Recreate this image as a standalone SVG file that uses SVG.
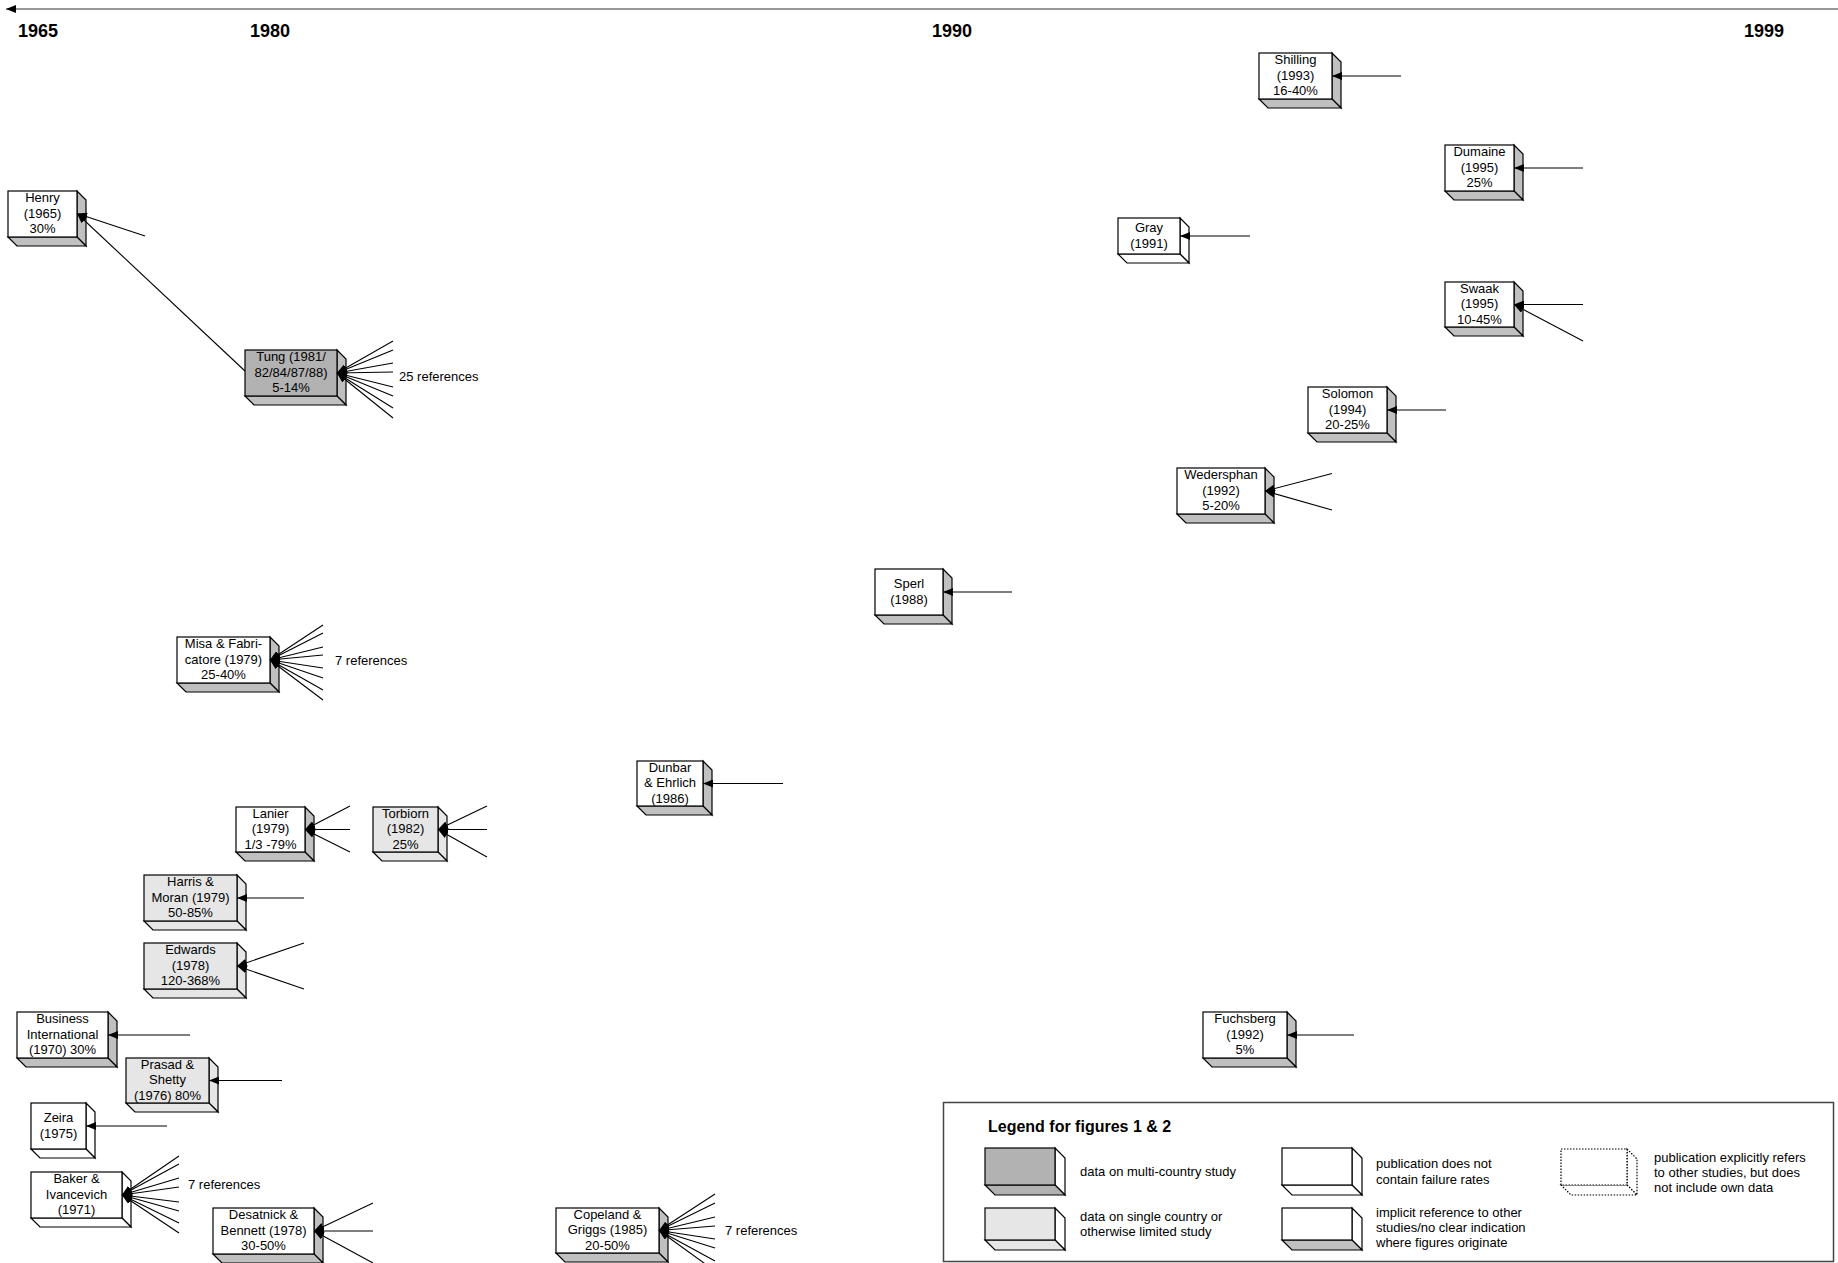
<svg xmlns="http://www.w3.org/2000/svg" width="1838" height="1263" viewBox="0 0 1838 1263">
<style>
text{font-family:"Liberation Sans",Arial,sans-serif;font-size:13px;fill:#000}
.yr{font-size:18px;font-weight:bold}
.lt{font-size:16px;font-weight:bold}
.c{text-anchor:middle}
.f{stroke:#000;stroke-width:1.2}
.w{fill:#fff}
.s{fill:#c0c0c0}
.lg{fill:#e6e6e6}
.dg{fill:#b2b2b2}
.cn path{fill:none;stroke:#000;stroke-width:1.1;marker-end:url(#ah)}
.dot{fill:#fff;stroke:#000;stroke-width:1.2;stroke-dasharray:1.5 1.5}
</style>
<defs>
<marker id="ah" viewBox="0 0 10 8" refX="10" refY="4" markerWidth="10" markerHeight="8" markerUnits="userSpaceOnUse" orient="auto"><path d="M0,0 L10,4 L0,8 z" fill="#000"/></marker>
</defs>
<rect width="1838" height="1263" fill="#fff"/>
<g id="axis">
<path d="M1838,9 L6,9" fill="none" stroke="#333" stroke-width="1.2" marker-end="url(#ah)"/>
<text class="yr" x="18" y="37">1965</text>
<text class="yr" x="250" y="37">1980</text>
<text class="yr" x="932" y="37">1990</text>
<text class="yr" x="1744" y="37">1999</text>
</g>
<g id="henry"><polygon class="f s" points="77,191 86,200 86,246 77,237"/><polygon class="f s" points="8,237 77,237 86,246 17,246"/><rect class="f w" x="8" y="191" width="69" height="46"/><text class="c" x="42.5" y="202">Henry</text><text class="c" x="42.5" y="217.5">(1965)</text><text class="c" x="42.5" y="233">30%</text></g>
<g id="tung"><polygon class="f s" points="337,350 346,359 346,405 337,396"/><polygon class="f s" points="245,396 337,396 346,405 254,405"/><rect class="f dg" x="245" y="350" width="92" height="46"/><text class="c" x="291" y="361">Tung (1981/</text><text class="c" x="291" y="376.5">82/84/87/88)</text><text class="c" x="291" y="392">5-14%</text></g>
<g id="misa"><polygon class="f s" points="270,637 279,646 279,692 270,683"/><polygon class="f s" points="177,683 270,683 279,692 186,692"/><rect class="f w" x="177" y="637" width="93" height="46"/><text class="c" x="223.5" y="648">Misa &amp; Fabri-</text><text class="c" x="223.5" y="663.5">catore (1979)</text><text class="c" x="223.5" y="679">25-40%</text></g>
<g id="lanier"><polygon class="f s" points="305,807 314,816 314,861 305,852"/><polygon class="f s" points="236,852 305,852 314,861 245,861"/><rect class="f w" x="236" y="807" width="69" height="45"/><text class="c" x="270.5" y="817.5">Lanier</text><text class="c" x="270.5" y="833">(1979)</text><text class="c" x="270.5" y="848.5">1/3 -79%</text></g>
<g id="torbiorn"><polygon class="f lg" points="438,807 447,816 447,861 438,852"/><polygon class="f lg" points="373,852 438,852 447,861 382,861"/><rect class="f lg" x="373" y="807" width="65" height="45"/><text class="c" x="405.5" y="817.5">Torbiorn</text><text class="c" x="405.5" y="833">(1982)</text><text class="c" x="405.5" y="848.5">25%</text></g>
<g id="harris"><polygon class="f lg" points="237,875 246,884 246,930 237,921"/><polygon class="f lg" points="144,921 237,921 246,930 153,930"/><rect class="f lg" x="144" y="875" width="93" height="46"/><text class="c" x="190.5" y="886">Harris &amp;</text><text class="c" x="190.5" y="901.5">Moran (1979)</text><text class="c" x="190.5" y="917">50-85%</text></g>
<g id="edwards"><polygon class="f lg" points="237,943 246,952 246,998 237,989"/><polygon class="f lg" points="144,989 237,989 246,998 153,998"/><rect class="f lg" x="144" y="943" width="93" height="46"/><text class="c" x="190.5" y="954">Edwards</text><text class="c" x="190.5" y="969.5">(1978)</text><text class="c" x="190.5" y="985">120-368%</text></g>
<g id="business"><polygon class="f s" points="108,1012 117,1021 117,1067 108,1058"/><polygon class="f s" points="17,1058 108,1058 117,1067 26,1067"/><rect class="f w" x="17" y="1012" width="91" height="46"/><text class="c" x="62.5" y="1023">Business</text><text class="c" x="62.5" y="1038.5">International</text><text class="c" x="62.5" y="1054">(1970) 30%</text></g>
<g id="prasad"><polygon class="f lg" points="209,1058 218,1067 218,1112 209,1103"/><polygon class="f lg" points="126,1103 209,1103 218,1112 135,1112"/><rect class="f lg" x="126" y="1058" width="83" height="45"/><text class="c" x="167.5" y="1068.5">Prasad &amp;</text><text class="c" x="167.5" y="1084">Shetty</text><text class="c" x="167.5" y="1099.5">(1976) 80%</text></g>
<g id="zeira"><polygon class="f w" points="86,1103 95,1112 95,1158 86,1149"/><polygon class="f w" points="31,1149 86,1149 95,1158 40,1158"/><rect class="f w" x="31" y="1103" width="55" height="46"/><text class="c" x="58.5" y="1122">Zeira</text><text class="c" x="58.5" y="1137.5">(1975)</text></g>
<g id="baker"><polygon class="f w" points="122,1172 131,1181 131,1227 122,1218"/><polygon class="f w" points="31,1218 122,1218 131,1227 40,1227"/><rect class="f w" x="31" y="1172" width="91" height="46"/><text class="c" x="76.5" y="1183">Baker &amp;</text><text class="c" x="76.5" y="1198.5">Ivancevich</text><text class="c" x="76.5" y="1214">(1971)</text></g>
<g id="desatnick"><polygon class="f s" points="314,1208 323,1217 323,1263 314,1254"/><polygon class="f s" points="213,1254 314,1254 323,1263 222,1263"/><rect class="f w" x="213" y="1208" width="101" height="46"/><text class="c" x="263.5" y="1219">Desatnick &amp;</text><text class="c" x="263.5" y="1234.5">Bennett (1978)</text><text class="c" x="263.5" y="1250">30-50%</text></g>
<g id="copeland"><polygon class="f s" points="659,1208 668,1217 668,1262 659,1253"/><polygon class="f s" points="556,1253 659,1253 668,1262 565,1262"/><rect class="f w" x="556" y="1208" width="103" height="45"/><text class="c" x="607.5" y="1218.5">Copeland &amp;</text><text class="c" x="607.5" y="1234">Griggs (1985)</text><text class="c" x="607.5" y="1249.5">20-50%</text></g>
<g id="dunbar"><polygon class="f s" points="703,761 712,770 712,815 703,806"/><polygon class="f s" points="637,806 703,806 712,815 646,815"/><rect class="f w" x="637" y="761" width="66" height="45"/><text class="c" x="670" y="771.5">Dunbar</text><text class="c" x="670" y="787">&amp; Ehrlich</text><text class="c" x="670" y="802.5">(1986)</text></g>
<g id="sperl"><polygon class="f s" points="943,569 952,578 952,624 943,615"/><polygon class="f s" points="875,615 943,615 952,624 884,624"/><rect class="f w" x="875" y="569" width="68" height="46"/><text class="c" x="909" y="588">Sperl</text><text class="c" x="909" y="603.5">(1988)</text></g>
<g id="fuchsberg"><polygon class="f s" points="1287,1012 1296,1021 1296,1067 1287,1058"/><polygon class="f s" points="1203,1058 1287,1058 1296,1067 1212,1067"/><rect class="f w" x="1203" y="1012" width="84" height="46"/><text class="c" x="1245" y="1023">Fuchsberg</text><text class="c" x="1245" y="1038.5">(1992)</text><text class="c" x="1245" y="1054">5%</text></g>
<g id="shilling"><polygon class="f s" points="1332,53 1341,62 1341,108 1332,99"/><polygon class="f s" points="1259,99 1332,99 1341,108 1268,108"/><rect class="f w" x="1259" y="53" width="73" height="46"/><text class="c" x="1295.5" y="64">Shilling</text><text class="c" x="1295.5" y="79.5">(1993)</text><text class="c" x="1295.5" y="95">16-40%</text></g>
<g id="dumaine"><polygon class="f s" points="1514,145 1523,154 1523,200 1514,191"/><polygon class="f s" points="1445,191 1514,191 1523,200 1454,200"/><rect class="f w" x="1445" y="145" width="69" height="46"/><text class="c" x="1479.5" y="156">Dumaine</text><text class="c" x="1479.5" y="171.5">(1995)</text><text class="c" x="1479.5" y="187">25%</text></g>
<g id="gray"><polygon class="f w" points="1180,218 1189,227 1189,263 1180,254"/><polygon class="f w" points="1118,254 1180,254 1189,263 1127,263"/><rect class="f w" x="1118" y="218" width="62" height="36"/><text class="c" x="1149" y="232">Gray</text><text class="c" x="1149" y="247.5">(1991)</text></g>
<g id="swaak"><polygon class="f s" points="1514,282 1523,291 1523,336 1514,327"/><polygon class="f s" points="1445,327 1514,327 1523,336 1454,336"/><rect class="f w" x="1445" y="282" width="69" height="45"/><text class="c" x="1479.5" y="292.5">Swaak</text><text class="c" x="1479.5" y="308">(1995)</text><text class="c" x="1479.5" y="323.5">10-45%</text></g>
<g id="solomon"><polygon class="f s" points="1387,387 1396,396 1396,442 1387,433"/><polygon class="f s" points="1308,433 1387,433 1396,442 1317,442"/><rect class="f w" x="1308" y="387" width="79" height="46"/><text class="c" x="1347.5" y="398">Solomon</text><text class="c" x="1347.5" y="413.5">(1994)</text><text class="c" x="1347.5" y="429">20-25%</text></g>
<g id="wedersphan"><polygon class="f s" points="1265,468 1274,477 1274,523 1265,514"/><polygon class="f s" points="1177,514 1265,514 1274,523 1186,523"/><rect class="f w" x="1177" y="468" width="88" height="46"/><text class="c" x="1221" y="479">Wedersphan</text><text class="c" x="1221" y="494.5">(1992)</text><text class="c" x="1221" y="510">5-20%</text></g>
<g id="connectors" class="cn">
<path d="M145,236 L77,213.5"/>
<path d="M245,371 L77,213.5"/>
<path d="M393,341 L337,373"/><path d="M393,350 L337,373"/><path d="M393,363 L337,373"/><path d="M393,372 L337,373"/><path d="M393,387 L337,373"/><path d="M393,396 L337,373"/><path d="M393,408 L337,373"/><path d="M393,418 L337,373"/>
<path d="M323,625 L270,660"/><path d="M323,633 L270,660"/><path d="M323,647 L270,660"/><path d="M323,655 L270,660"/><path d="M323,668 L270,660"/><path d="M323,678 L270,660"/><path d="M323,690 L270,660"/><path d="M323,700 L270,660"/>
<path d="M350,806 L305,829.5"/><path d="M350,829.5 L305,829.5"/><path d="M350,852 L305,829.5"/>
<path d="M487,806 L438,829.5"/><path d="M487,829.5 L438,829.5"/><path d="M487,857 L438,829.5"/>
<path d="M304,898 L237,898"/>
<path d="M304,943 L237,966"/><path d="M304,989 L237,966"/>
<path d="M190,1035 L108,1035"/>
<path d="M282,1080.5 L209,1080.5"/>
<path d="M167,1126 L86,1126"/>
<path d="M179,1156 L122,1195"/><path d="M179,1164 L122,1195"/><path d="M179,1178 L122,1195"/><path d="M179,1187 L122,1195"/><path d="M179,1202 L122,1195"/><path d="M179,1211 L122,1195"/><path d="M179,1223 L122,1195"/><path d="M179,1233 L122,1195"/>
<path d="M373,1203 L314,1231"/><path d="M373,1231 L314,1231"/><path d="M373,1263 L314,1231"/>
<path d="M715,1194 L659,1230.5"/><path d="M715,1203 L659,1230.5"/><path d="M715,1217 L659,1230.5"/><path d="M715,1226 L659,1230.5"/><path d="M715,1239 L659,1230.5"/><path d="M715,1248 L659,1230.5"/><path d="M715,1261 L659,1230.5"/><path d="M715,1271 L659,1230.5"/>
<path d="M783,783.5 L703,783.5"/>
<path d="M1012,592 L943,592"/>
<path d="M1354,1035 L1287,1035"/>
<path d="M1401,76 L1332,76"/>
<path d="M1583,168 L1514,168"/>
<path d="M1250,236 L1180,236"/>
<path d="M1583,304.5 L1514,304.5"/><path d="M1583,341 L1514,304.5"/>
<path d="M1446,410 L1387,410"/>
<path d="M1332,473.5 L1265,491"/><path d="M1332,510 L1265,491"/>
</g>
<g id="ref-labels">
<text x="399" y="380.5">25 references</text>
<text x="335" y="664.5">7 references</text>
<text x="188" y="1189">7 references</text>
<text x="725" y="1235">7 references</text>
</g>
<g id="legend">
<rect x="943.5" y="1102.5" width="890" height="159" fill="#fff" stroke="#444" stroke-width="1.5"/>
<text class="lt" x="988" y="1132">Legend for figures 1 &amp; 2</text>
<g id="legend-multi"><polygon class="f w" points="1055,1148 1065,1158 1065,1195 1055,1185"/><polygon class="f dg" points="985,1185 1055,1185 1065,1195 995,1195"/><rect class="f dg" x="985" y="1148" width="70" height="37"/><text x="1080" y="1176">data on multi-country study</text></g>
<g id="legend-single"><polygon class="f w" points="1055,1208 1065,1218 1065,1250 1055,1240"/><polygon class="f lg" points="985,1240 1055,1240 1065,1250 995,1250"/><rect class="f lg" x="985" y="1208" width="70" height="32"/><text x="1080" y="1221">data on single country or</text><text x="1080" y="1236">otherwise limited study</text></g>
<g id="legend-nofail"><polygon class="f w" points="1352,1148 1362,1158 1362,1195 1352,1185"/><polygon class="f w" points="1282,1185 1352,1185 1362,1195 1292,1195"/><rect class="f w" x="1282" y="1148" width="70" height="37"/><text x="1376" y="1168">publication does not</text><text x="1376" y="1183.5">contain failure rates</text></g>
<g id="legend-implicit"><polygon class="f w" points="1352,1208 1362,1218 1362,1250 1352,1240"/><polygon class="f s" points="1282,1240 1352,1240 1362,1250 1292,1250"/><rect class="f w" x="1282" y="1208" width="70" height="32"/><text x="1376" y="1217">implicit reference to other</text><text x="1376" y="1232">studies/no clear indication</text><text x="1376" y="1246.5">where figures originate</text></g>
<g id="legend-explicit"><polygon class="dot" points="1627,1149 1637,1159 1637,1195 1627,1185"/><polygon class="dot" points="1561,1185 1627,1185 1637,1195 1571,1195"/><rect class="dot" x="1561" y="1149" width="66" height="36"/><text x="1654" y="1162">publication explicitly refers</text><text x="1654" y="1177">to other studies, but does</text><text x="1654" y="1191.5">not include own data</text></g>
</g>
</svg>
